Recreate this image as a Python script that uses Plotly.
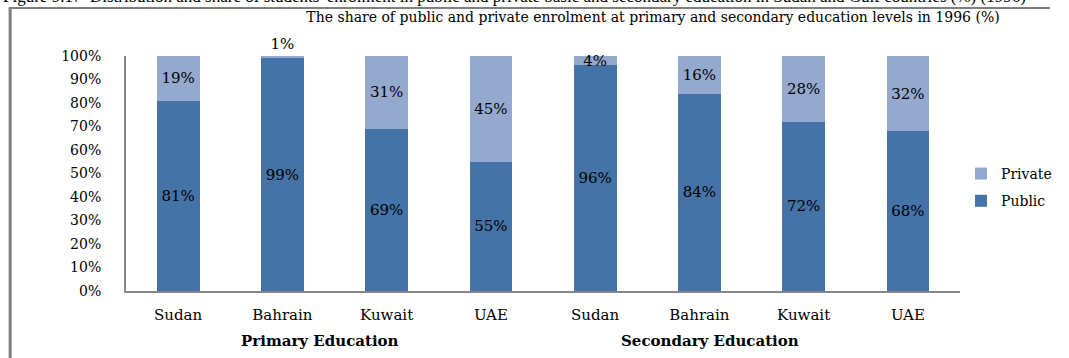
import plotly.graph_objects as go

countries = ["Sudan", "Bahrain", "Kuwait", "UAE", "Sudan", "Bahrain", "Kuwait", "UAE"]
levels = ["Primary Education"] * 4 + ["Secondary Education"] * 4
public = [81, 99, 69, 55, 96, 84, 72, 68]
private = [19, 1, 31, 45, 4, 16, 28, 32]
private_label_pos = ["inside", "outside", "inside", "inside", "inside", "inside", "inside", "inside"]
y_ticks = [0, 10, 20, 30, 40, 50, 60, 70, 80, 90, 100]

keys = [f"{lv} - {c}" for lv, c in zip(levels, countries)]

FONT = "DejaVu Serif"
PUB = "#4573A7"
PRI = "#95A9CF"

fig = go.Figure()
fig.add_trace(go.Bar(
    x=keys, y=public, name="Public", marker_color=PUB, marker_line_width=0,
    text=[f"{v}%" for v in public], textposition="inside",
    insidetextanchor="middle", constraintext="none",
    insidetextfont=dict(family=FONT, size=15, color="black"),
    legendgroup="pub", legendrank=2, cliponaxis=False,
))
fig.add_trace(go.Bar(
    x=keys, y=private, name="Private", marker_color=PRI, marker_line_width=0,
    text=[f"{v}%" for v in private], textposition=private_label_pos,
    insidetextanchor="middle", constraintext="none",
    insidetextfont=dict(family=FONT, size=15, color="black"),
    outsidetextfont=dict(family=FONT, size=15, color="black"),
    legendgroup="pri", legendrank=1, cliponaxis=False,
))

W, H = 1069, 358
L, R, T, B = 126, 90, 56, 67
pw, ph = W - L - R, H - T - B

def px_x(x):
    return (x - L) / pw

def px_y(y):
    return (H - B - y) / ph

fig.update_layout(
    width=W, height=H, autosize=False,
    margin=dict(l=L, r=R, t=T, b=B),
    barmode="stack", bargap=0.59,
    plot_bgcolor="white", paper_bgcolor="white",
    font=dict(family=FONT, size=13, color="black"),
    title=dict(
        text="The share of public and private enrolment at primary and secondary education levels in 1996 (%)",
        x=653 / W, xref="container", xanchor="center",
        y=1 - 17 / H, yref="container", yanchor="middle",
        font=dict(family=FONT, size=14, color="black"),
    ),
    xaxis=dict(
        tickvals=keys, ticktext=countries, showgrid=False,
        showline=True, linecolor="#868686", linewidth=2,
        ticks="", ticklabelstandoff=9,
        tickfont=dict(family=FONT, size=15),
    ),
    yaxis=dict(
        range=[0, 100], tickvals=y_ticks, ticktext=[f"{v}%" for v in y_ticks],
        showgrid=False, zeroline=False,
        showline=True, linecolor="#868686", linewidth=2,
        ticks="", ticklabelstandoff=20,
        tickfont=dict(family=FONT, size=14),
    ),
    legend=dict(
        x=px_x(980), y=px_y(158), xanchor="left", yanchor="top",
        traceorder="grouped", tracegroupgap=6,
        font=dict(family=FONT, size=14), itemwidth=30,
        bgcolor="rgba(0,0,0,0)",
    ),
    showlegend=True,
)

# group labels
fig.add_annotation(text="<b>Primary Education</b>", xref="paper", yref="paper",
                   x=px_x(324), y=px_y(341), xanchor="center", yanchor="middle",
                   showarrow=False, font=dict(family=FONT, size=15, color="black"))
fig.add_annotation(text="<b>Secondary Education</b>", xref="paper", yref="paper",
                   x=px_x(723), y=px_y(341), xanchor="center", yanchor="middle",
                   showarrow=False, font=dict(family=FONT, size=15, color="black"))

# clipped caption at the very top (scan of a report page)
fig.add_annotation(
    text="Figure 9.17  Distribution and share of students' enrolment in public and private basic and secondary education in Sudan and Gulf countries (%) (1996)",
    xref="paper", yref="paper", x=px_x(-2), y=px_y(8), xanchor="left", yanchor="bottom",
    showarrow=False, font=dict(family="Liberation Serif", size=17, color="black"))

# frame lines
fig.add_shape(type="line", xref="paper", yref="paper",
              x0=px_x(7.5), x1=px_x(7.5), y0=px_y(8), y1=px_y(H + 2),
              line=dict(color="#7F7F7F", width=3))
fig.add_shape(type="line", xref="paper", yref="paper",
              x0=px_x(6), x1=px_x(W + 2), y0=px_y(8), y1=px_y(8),
              line=dict(color="#7F7F7F", width=2))

fig.write_html("out.html", config={"displayModeBar": False},
               post_script="document.body.style.margin='0';")
